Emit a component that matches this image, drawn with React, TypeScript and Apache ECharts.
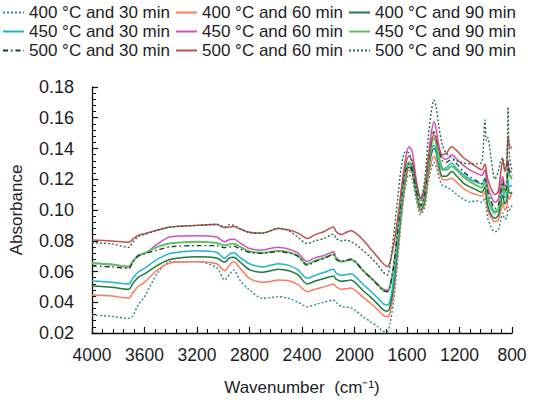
import React, { useEffect, useRef } from "react";
import * as echarts from "echarts";

const wavenumbers = [
  4000, 3850, 3720, 3690, 3650, 3600, 3500, 3400, 3200, 3050,
  2990, 2950, 2920, 2870, 2800, 2700, 2640, 2580, 2500, 2430,
  2360, 2300, 2230, 2160, 2140, 2100, 2060, 2030, 1990, 1940,
  1880, 1820, 1780, 1750, 1730, 1700, 1670, 1640, 1610, 1585,
  1560, 1530, 1495, 1465, 1440, 1415, 1395, 1380, 1360, 1330,
  1300, 1260, 1220, 1170, 1120, 1070, 1030, 1006, 995, 985,
  960, 930, 905, 885, 870, 855, 840, 830, 820, 800,
];

const s400_30 = [
  0.0317, 0.0308, 0.0295, 0.0310, 0.0380, 0.0436, 0.0590, 0.0664, 0.0664, 0.0625,
  0.0545, 0.0585, 0.0610, 0.0540, 0.0480, 0.0426, 0.0430, 0.0436, 0.0425, 0.0400,
  0.0371, 0.0385, 0.0400, 0.0415, 0.0398, 0.0372, 0.0368, 0.0365, 0.0345, 0.0310,
  0.0275, 0.0240, 0.0210, 0.0210, 0.0260, 0.0420, 0.0680, 0.0960, 0.1160, 0.1230,
  0.1200, 0.1070, 0.0970, 0.1020, 0.1170, 0.1270, 0.1310, 0.1290, 0.1220, 0.1160,
  0.1150, 0.1130, 0.1100, 0.1070, 0.1054, 0.1060, 0.1050, 0.1080, 0.1010, 0.0950,
  0.0890, 0.0859, 0.0870, 0.0940, 0.0980, 0.0940, 0.0950, 0.1020, 0.1000, 0.1030,
];

const s400_60 = [
  0.0447, 0.0440, 0.0426, 0.0460, 0.0501, 0.0530, 0.0610, 0.0657, 0.0664, 0.0650,
  0.0605, 0.0645, 0.0664, 0.0620, 0.0556, 0.0530, 0.0535, 0.0545, 0.0540, 0.0515,
  0.0469, 0.0485, 0.0500, 0.0519, 0.0500, 0.0485, 0.0488, 0.0492, 0.0475, 0.0435,
  0.0395, 0.0350, 0.0315, 0.0306, 0.0330, 0.0470, 0.0720, 0.0990, 0.1190, 0.1260,
  0.1240, 0.1100, 0.0985, 0.1040, 0.1200, 0.1310, 0.1350, 0.1330, 0.1260, 0.1200,
  0.1195, 0.1206, 0.1180, 0.1140, 0.1115, 0.1100, 0.1090, 0.1120, 0.1060, 0.1000,
  0.0950, 0.0925, 0.0935, 0.1000, 0.1050, 0.1000, 0.1020, 0.1100, 0.1070, 0.1120,
];

const s400_90 = [
  0.0506, 0.0498, 0.0484, 0.0520, 0.0560, 0.0585, 0.0640, 0.0679, 0.0696, 0.0688,
  0.0660, 0.0690, 0.0693, 0.0660, 0.0612, 0.0595, 0.0605, 0.0615, 0.0605, 0.0578,
  0.0519, 0.0538, 0.0555, 0.0571, 0.0550, 0.0536, 0.0540, 0.0545, 0.0525, 0.0480,
  0.0435, 0.0385, 0.0350, 0.0342, 0.0370, 0.0520, 0.0770, 0.1030, 0.1220, 0.1280,
  0.1250, 0.1110, 0.1000, 0.1060, 0.1240, 0.1360, 0.1400, 0.1380, 0.1300, 0.1220,
  0.1220, 0.1250, 0.1220, 0.1175, 0.1150, 0.1130, 0.1115, 0.1150, 0.1090, 0.1030,
  0.0970, 0.0946, 0.0965, 0.1040, 0.1100, 0.1040, 0.1060, 0.1150, 0.1110, 0.1110,
];

const s450_30 = [
  0.0538, 0.0530, 0.0519, 0.0555, 0.0595, 0.0620, 0.0680, 0.0718, 0.0735, 0.0725,
  0.0686, 0.0715, 0.0722, 0.0690, 0.0650, 0.0630, 0.0640, 0.0650, 0.0640, 0.0610,
  0.0556, 0.0575, 0.0595, 0.0614, 0.0590, 0.0575, 0.0580, 0.0585, 0.0565, 0.0520,
  0.0475, 0.0425, 0.0390, 0.0382, 0.0410, 0.0560, 0.0800, 0.1050, 0.1240, 0.1300,
  0.1270, 0.1130, 0.1030, 0.1090, 0.1270, 0.1390, 0.1420, 0.1400, 0.1320, 0.1260,
  0.1275, 0.1305, 0.1270, 0.1230, 0.1200, 0.1180, 0.1170, 0.1210, 0.1150, 0.1080,
  0.1010, 0.0980, 0.1000, 0.1080, 0.1150, 0.1080, 0.1100, 0.1200, 0.1150, 0.1160,
];

const s450_60 = [
  0.0653, 0.0645, 0.0627, 0.0660, 0.0705, 0.0715, 0.0780, 0.0826, 0.0833, 0.0825,
  0.0794, 0.0808, 0.0811, 0.0785, 0.0750, 0.0740, 0.0750, 0.0758, 0.0745, 0.0720,
  0.0665, 0.0690, 0.0705, 0.0729, 0.0690, 0.0668, 0.0672, 0.0680, 0.0660, 0.0610,
  0.0565, 0.0515, 0.0485, 0.0480, 0.0510, 0.0650, 0.0880, 0.1150, 0.1340, 0.1412,
  0.1380, 0.1200, 0.1060, 0.1130, 0.1330, 0.1500, 0.1574, 0.1540, 0.1430, 0.1340,
  0.1330, 0.1360, 0.1330, 0.1290, 0.1260, 0.1240, 0.1225, 0.1260, 0.1210, 0.1150,
  0.1090, 0.1050, 0.1070, 0.1170, 0.1217, 0.1150, 0.1180, 0.1320, 0.1260, 0.1245,
];

const s450_90 = [
  0.0653, 0.0645, 0.0632, 0.0665, 0.0700, 0.0720, 0.0760, 0.0783, 0.0794, 0.0785,
  0.0770, 0.0778, 0.0780, 0.0760, 0.0730, 0.0722, 0.0728, 0.0735, 0.0725, 0.0700,
  0.0648, 0.0670, 0.0690, 0.0712, 0.0685, 0.0665, 0.0670, 0.0678, 0.0660, 0.0612,
  0.0562, 0.0512, 0.0475, 0.0469, 0.0500, 0.0640, 0.0870, 0.1100, 0.1260, 0.1310,
  0.1280, 0.1130, 0.1020, 0.1090, 0.1280, 0.1420, 0.1466, 0.1440, 0.1360, 0.1270,
  0.1260, 0.1285, 0.1260, 0.1215, 0.1185, 0.1160, 0.1145, 0.1180, 0.1150, 0.1090,
  0.1030, 0.0990, 0.1010, 0.1100, 0.1170, 0.1110, 0.1130, 0.1280, 0.1230, 0.1200,
];

const s500_30 = [
  0.0636, 0.0630, 0.0620, 0.0660, 0.0700, 0.0715, 0.0740, 0.0761, 0.0768, 0.0768,
  0.0755, 0.0760, 0.0765, 0.0745, 0.0725, 0.0718, 0.0725, 0.0730, 0.0720, 0.0700,
  0.0640, 0.0665, 0.0685, 0.0710, 0.0680, 0.0665, 0.0672, 0.0680, 0.0660, 0.0610,
  0.0560, 0.0510, 0.0475, 0.0470, 0.0500, 0.0640, 0.0870, 0.1100, 0.1260, 0.1300,
  0.1260, 0.1130, 0.1030, 0.1100, 0.1300, 0.1440, 0.1510, 0.1480, 0.1400, 0.1320,
  0.1310, 0.1330, 0.1300, 0.1250, 0.1215, 0.1190, 0.1170, 0.1200, 0.1170, 0.1120,
  0.1060, 0.1010, 0.1030, 0.1120, 0.1190, 0.1120, 0.1150, 0.1320, 0.1250, 0.1220,
];

const s500_60 = [
  0.0805, 0.0798, 0.0790, 0.0810, 0.0835, 0.0845, 0.0870, 0.0890, 0.0900, 0.0905,
  0.0885, 0.0890, 0.0892, 0.0875, 0.0855, 0.0850, 0.0865, 0.0880, 0.0870, 0.0850,
  0.0815, 0.0840, 0.0860, 0.0890, 0.0860, 0.0840, 0.0855, 0.0865, 0.0850, 0.0810,
  0.0750, 0.0690, 0.0650, 0.0632, 0.0660, 0.0780, 0.0950, 0.1150, 0.1300, 0.1350,
  0.1320, 0.1180, 0.1080, 0.1150, 0.1320, 0.1440, 0.1490, 0.1470, 0.1400, 0.1360,
  0.1370, 0.1412, 0.1385, 0.1340, 0.1310, 0.1280, 0.1262, 0.1300, 0.1250, 0.1200,
  0.1140, 0.1100, 0.1120, 0.1250, 0.1325, 0.1250, 0.1300, 0.1480, 0.1420, 0.1400,
];

const s500_90 = [
  0.0787, 0.0780, 0.0757, 0.0790, 0.0825, 0.0840, 0.0868, 0.0890, 0.0900, 0.0908,
  0.0890, 0.0905, 0.0900, 0.0878, 0.0852, 0.0848, 0.0865, 0.0882, 0.0865, 0.0822,
  0.0783, 0.0800, 0.0815, 0.0843, 0.0815, 0.0800, 0.0805, 0.0794, 0.0775, 0.0740,
  0.0695, 0.0640, 0.0595, 0.0577, 0.0640, 0.0850, 0.1080, 0.1300, 0.1380, 0.1370,
  0.1300, 0.1160, 0.1076, 0.1200, 0.1450, 0.1640, 0.1715, 0.1680, 0.1560, 0.1420,
  0.1370, 0.1340, 0.1320, 0.1305, 0.1300, 0.1300, 0.1310, 0.1585, 0.1450, 0.1470,
  0.1340, 0.1200, 0.1250, 0.1320, 0.1340, 0.1270, 0.1300, 0.1670, 0.1350, 0.1260,
];

const seriesNames = [
  "400 °C and 30 min", "400 °C and 60 min", "400 °C and 90 min",
  "450 °C and 30 min", "450 °C and 60 min", "450 °C and 90 min",
  "500 °C and 30 min", "500 °C and 60 min", "500 °C and 90 min",
];

const xTicks = [4000, 3600, 3200, 2800, 2400, 2000, 1600, 1200, 800];

const FONT = "'Liberation Sans', Arial, sans-serif";
const TXT = "#1d1d1f";

export default function App() {
  const ref = useRef<HTMLDivElement>(null);
  useEffect(() => {
    document.body.style.margin = "0";
    if (!ref.current) return;
    const chart = echarts.init(ref.current, undefined, { renderer: "svg" });
    const values = [s400_30, s400_60, s400_90, s450_30, s450_60, s450_90, s500_30, s500_60, s500_90];
    const styles: any[] = [
      { color: "#2b8a8a", width: 1.4, type: [2, 2] },
      { color: "#ff7a5c", width: 1.5, type: "solid" },
      { color: "#1f7a3a", width: 1.5, type: "solid" },
      { color: "#1cb6cc", width: 1.5, type: "solid" },
      { color: "#d24fc0", width: 1.5, type: "solid" },
      { color: "#5fc25f", width: 2, type: "solid" },
      { color: "#1d3b3b", width: 1.4, type: [5, 3, 1.5, 3] },
      { color: "#c0504d", width: 1.5, type: "solid" },
      { color: "#2c6a4c", width: 1.4, type: [2, 2] },
    ];
    const series = values.map((arr, k) => ({
      name: seriesNames[k],
      type: "line",
      symbol: "none",
      showSymbol: false,
      smooth: 0.3,
      color: styles[k].color,
      lineStyle: styles[k],
      data: wavenumbers.map((w, i) => [w, arr[i]]),
    }));
    const legendCommon = {
      left: 2,
      orient: "horizontal",
      itemWidth: 21,
      itemHeight: 10,
      itemGap: 5,
      padding: 0,
      itemStyle: { opacity: 0 },
      textStyle: { fontSize: 17, color: TXT, fontFamily: FONT },
    };
    chart.setOption({
      animation: false,
      textStyle: { fontFamily: FONT },
      legend: [
        { ...legendCommon, top: 4, data: seriesNames.slice(0, 3) },
        { ...legendCommon, top: 23, data: seriesNames.slice(3, 6) },
        { ...legendCommon, top: 42, data: seriesNames.slice(6, 9) },
      ],
      grid: { left: 83, right: 38, top: 87, bottom: 69, containLabel: false },
      xAxis: {
        type: "value",
        inverse: true,
        min: 800,
        max: 4000,
        interval: 400,
        name: "Wavenumber  (cm⁻¹)",
        nameLocation: "middle",
        nameGap: 46,
        nameTextStyle: { fontSize: 17, color: TXT, fontFamily: FONT },
        axisLine: { show: true, lineStyle: { color: "#111", width: 1.3 } },
        axisTick: { show: true, inside: true, length: 6, lineStyle: { color: "#111", width: 1.2 } },
        minorTick: { show: true, splitNumber: 5, length: 4, lineStyle: { color: "#111", width: 1 } },
        splitLine: { show: false },
        axisLabel: {
          fontSize: 17.5, color: TXT, margin: 13, fontFamily: FONT,
          formatter: (v: number) => (xTicks.includes(v) ? String(v) : ""),
        },
      },
      yAxis: {
        type: "value",
        min: 0.02,
        max: 0.18,
        interval: 0.02,
        name: "Absorbance",
        nameLocation: "middle",
        nameGap: 67,
        nameTextStyle: { fontSize: 17, color: TXT, fontFamily: FONT },
        axisLine: { show: true, lineStyle: { color: "#111", width: 1.3 } },
        axisTick: { show: true, inside: true, length: 6, lineStyle: { color: "#111", width: 1.2 } },
        minorTick: { show: true, splitNumber: 5, length: 4, lineStyle: { color: "#111", width: 1 } },
        splitLine: { show: false },
        axisLabel: {
          fontSize: 18, color: TXT, margin: 18, fontFamily: FONT,
          formatter: (v: number) => v.toFixed(2),
        },
      },
      series,
    });
    return () => chart.dispose();
  }, []);
  return <div ref={ref} style={{ width: 550, height: 402 }} />;
}
